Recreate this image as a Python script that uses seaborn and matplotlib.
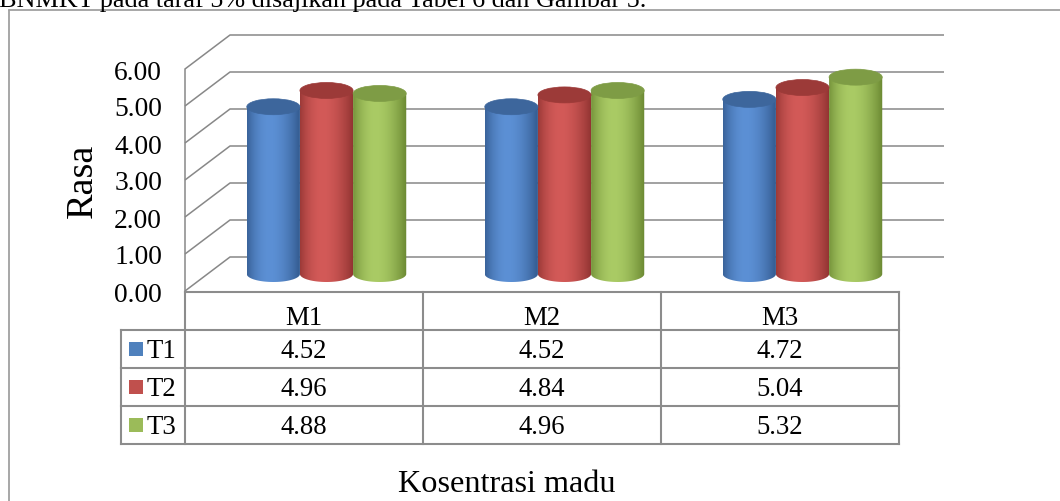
import numpy as np
import pandas as pd
import matplotlib
matplotlib.use("Agg")
import matplotlib.pyplot as plt
import seaborn as sns
from matplotlib.patches import Rectangle, Ellipse, PathPatch
from matplotlib.path import Path
from matplotlib.colors import to_rgb
from matplotlib.lines import Line2D

# ---- data ---------------------------------------------------------------
categories = ["M1", "M2", "M3"]
series_names = ["T1", "T2", "T3"]
t1_values = [4.52, 4.52, 4.72]
t2_values = [4.96, 4.84, 5.04]
t3_values = [4.88, 4.96, 5.32]
y_ticks = [0, 1, 2, 3, 4, 5, 6]
y_label = "Rasa"
x_label = "Kosentrasi madu"
caption = "BNMKT pada taraf 5% disajikan pada Tabel 6 dan Gambar 5."

series_values = {"T1": t1_values, "T2": t2_values, "T3": t3_values}

# ---- styling ------------------------------------------------------------
series_colors = {"T1": "#4f81bd", "T2": "#c0504d", "T3": "#9bbb59"}
# (dark edge, highlight, top cap) for the cylinder shading
shade = {
    "T1": ("#31588c", "#5c90d5", "#3d669c"),
    "T2": ("#8f3230", "#d35a58", "#9c3a38"),
    "T3": ("#6a8832", "#aacb65", "#7e9c45"),
}
GRID = "#888888"
TABLE_LINE = "#8c8c8c"

df = pd.DataFrame({
    "Kosentrasi": categories * len(series_names),
    "Perlakuan": [s for s in series_names for _ in categories],
    "Rasa": t1_values + t2_values + t3_values,
})

W, H, DPI = 1060, 502, 100
sns.set_theme(style="white")
plt.rcParams["font.family"] = ["Liberation Serif", "DejaVu Serif"]
plt.rcParams["text.color"] = "black"

fig = plt.figure(figsize=(W / DPI, H / DPI), dpi=DPI)
fig.patch.set_facecolor("white")


def fx(px):
    return px / W


def fy(py):
    return 1 - py / H


# front plane of the 3-D plot box
ax = fig.add_axes([fx(185), fy(292), fx(899) - fx(185), fy(70) - fy(292)])
sns.barplot(data=df, x="Kosentrasi", y="Rasa", hue="Perlakuan",
            order=categories, hue_order=series_names, palette=series_colors,
            width=0.67, gap=0, errorbar=None, legend=False, ax=ax)
ax.set_xlim(-0.5, len(categories) - 0.5)
ax.set_ylim(min(y_ticks), max(y_ticks))
ax.set_facecolor("none")
for s in ax.spines.values():
    s.set_visible(False)
ax.grid(False)

# pixel size of one data unit, used to express the depth offset
p0 = ax.transData.transform((0, 0))
p1 = ax.transData.transform((1, 1))
ux, uy = p1[0] - p0[0], p1[1] - p0[1]
DEPTH_X, DEPTH_Y = 45, 34          # depth of the plot box in pixels
dxd, dyd = DEPTH_X / ux, DEPTH_Y / uy
mxd, myd = dxd / 2, dyd / 2         # cylinders stand at mid-depth
RY = 8.0 / uy                      # half-height of the cylinder ellipses

x_lo, x_hi = -0.5, len(categories) - 0.5

# walls: left side wall with diagonals, back wall grid lines
for v in y_ticks:
    ax.plot([x_lo, x_lo + dxd, x_hi + dxd], [v, v + dyd, v + dyd],
            color=GRID, lw=1.1, clip_on=False, zorder=1,
            solid_capstyle="butt")
ax.plot([x_lo, x_lo], [min(y_ticks), max(y_ticks)], color=GRID, lw=1.1,
        clip_on=False, zorder=1)


def shade_row(dark, light, n=90):
    u = np.linspace(0, 1, n)
    peak = 0.42
    f = np.where(u < peak,
                 1 - 0.8 * ((peak - u) / peak) ** 2,
                 1 - ((u - peak) / (1 - peak)) ** 1.8)
    d = np.array(to_rgb(dark))
    l = np.array(to_rgb(light))
    return (d + (l - d) * f[:, None])[None, :, :]


def series_of(patch):
    fc = np.array(patch.get_facecolor()[:3])
    return min(series_names,
               key=lambda s: np.abs(np.array(to_rgb(series_colors[s])) - fc).sum())


bars = [p for p in ax.patches if isinstance(p, Rectangle)]
bars.sort(key=lambda p: p.get_x())
for bar in bars:
    name = series_of(bar)
    dark, light, cap = shade[name]
    x0 = bar.get_x() + mxd
    w = bar.get_width()
    h = bar.get_height()
    base = myd
    top = base + h
    xc = x0 + w / 2
    bar.set_visible(False)

    theta = np.linspace(np.pi, 2 * np.pi, 60)
    arc = np.column_stack([xc + (w / 2) * np.cos(theta),
                           base + RY * np.sin(theta)])
    verts = np.vstack([[x0, top], [x0, base], arc, [x0 + w, top], [x0, top]])
    codes = [Path.MOVETO] + [Path.LINETO] * (len(verts) - 2) + [Path.CLOSEPOLY]
    body = Path(verts, codes)

    im = ax.imshow(shade_row(dark, light), extent=(x0, x0 + w, base - RY, top),
                   aspect="auto", origin="lower", interpolation="bilinear",
                   zorder=3)
    im.set_clip_box(fig.bbox)
    im.set_clip_path(PathPatch(body, transform=ax.transData))

    ax.add_patch(Ellipse((xc, top), w, 2 * RY, facecolor=cap,
                         edgecolor=cap, lw=0.5, zorder=4, clip_on=False))

ax.set_xlim(x_lo, x_hi)
ax.set_ylim(min(y_ticks), max(y_ticks))
ax.set_yticks(y_ticks)
ax.set_yticklabels([f"{v:.2f}" for v in y_ticks])
ax.tick_params(axis="y", length=0, pad=16.5, labelsize=19.8, left=False,
               labelcolor="black")
ax.tick_params(axis="x", bottom=False, labelbottom=False)
ax.set_xlabel(x_label, fontsize=23.2, color="black")
ax.xaxis.label.set_va("center")
ax.xaxis.set_label_coords(0.451, -0.868)
ax.set_ylabel(y_label, fontsize=27.5, color="black")
ax.yaxis.set_label_coords(-0.119, 0.5)

# ---- data table under the plot -----------------------------------------
tab = fig.add_axes([fx(185), fy(445), fx(899) - fx(185), fy(293) - fy(445)])
tab.set_xlim(x_lo, x_hi)
n_rows = len(series_names) + 1
tab.set_ylim(n_rows, 0)
tab.axis("off")

LEG_W = 64 / ux
xl = x_lo - LEG_W
kw = dict(color=TABLE_LINE, lw=1.5, clip_on=False, solid_capstyle="projecting")
tab.plot([x_lo, x_hi], [0, 0], **kw)
for r in range(1, n_rows + 1):
    tab.plot([xl, x_hi], [r, r], **kw)
for i in range(len(categories) + 1):
    tab.plot([x_lo + i, x_lo + i], [0, n_rows], **kw)
tab.plot([xl, xl], [1, n_rows], **kw)

TXT = 19.3
row_h_px = 152 / n_rows
for i, cat in enumerate(categories):
    tab.text(i, 0.66, cat, ha="center", va="center", fontsize=TXT)
for r, name in enumerate(series_names, start=1):
    sq = 14 / ux
    sq_h = 14 / row_h_px
    tab.add_patch(Rectangle((xl + 8 / ux, r + 0.5 - sq_h / 2), sq, sq_h,
                            facecolor=series_colors[name], edgecolor="none",
                            clip_on=False))
    tab.text(xl + 26 / ux, r + 0.55, name, ha="left", va="center", fontsize=TXT)
    for i, v in enumerate(series_values[name]):
        tab.text(i, r + 0.55, f"{v:.2f}", ha="center", va="center", fontsize=TXT)

# ---- chart frame and running text above it ------------------------------
fig.add_artist(Line2D([fx(9), fx(9)], [fy(11), 0], color="#a0a0a0", lw=1.3))
fig.add_artist(Line2D([fx(9), 1], [fy(11), fy(11)], color="#a0a0a0", lw=1.3))
fig.text(fx(-1), fy(7), caption, fontsize=18.8, ha="left", va="baseline")

fig.savefig("out.png", dpi=DPI)
